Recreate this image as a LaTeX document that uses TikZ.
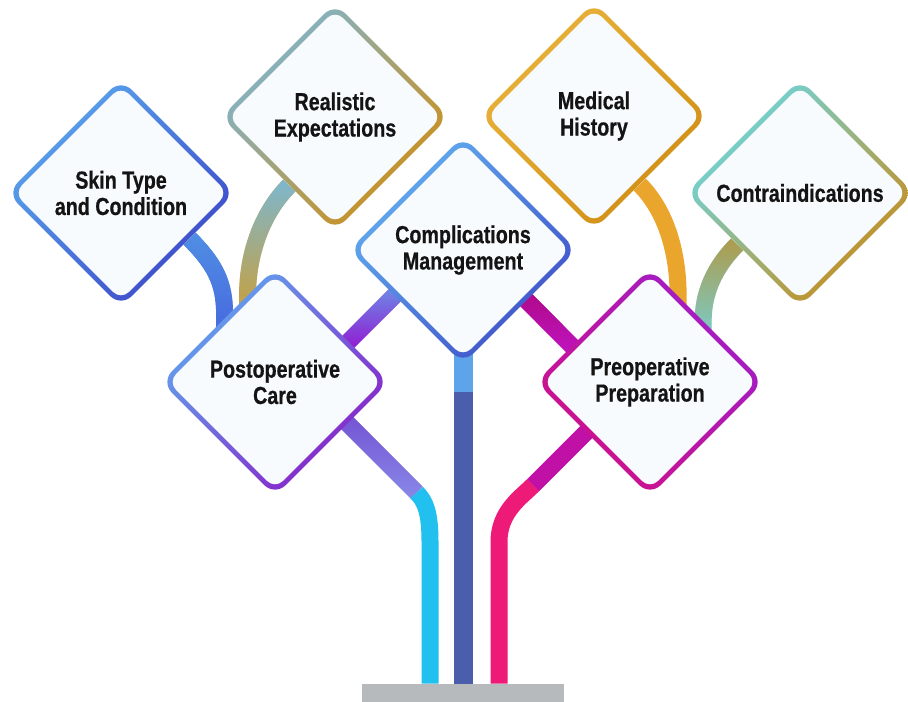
\documentclass[tikz,border=0pt]{standalone}
\usepackage{fontspec}
\usepackage{tikz}
\usetikzlibrary{shapes.geometric}
\usetikzlibrary{calc}
\usetikzlibrary{fadings}
\newfontfamily\cardfont[FakeStretch=0.8, FakeBold=0.6]{Liberation Sans}
\definecolor{facewhite}{HTML}{F8FBFD}
\definecolor{cardtext}{HTML}{141414}
\definecolor{skinlt}{HTML}{5AA8EE}
\definecolor{skindk}{HTML}{3C46C8}
\definecolor{reallt}{HTML}{7CB6D4}
\definecolor{realdk}{HTML}{D08E14}
\definecolor{complt}{HTML}{62B0F0}
\definecolor{compdk}{HTML}{3F4FC8}
\definecolor{medlt}{HTML}{EAB43C}
\definecolor{meddk}{HTML}{D08E14}
\definecolor{contralt}{HTML}{6AD8E4}
\definecolor{contradk}{HTML}{C98C18}
\definecolor{postlt}{HTML}{5FAAEE}
\definecolor{postdk}{HTML}{8A1CC8}
\definecolor{prelt}{HTML}{A01EC8}
\definecolor{predk}{HTML}{D0108A}
\definecolor{skinstemA}{HTML}{5090E4}
\definecolor{skinstemB}{HTML}{4660DE}
\definecolor{realstemA}{HTML}{7CB8D2}
\definecolor{realstemB}{HTML}{D49C26}
\definecolor{medstem}{HTML}{E9A52C}
\definecolor{contrastemA}{HTML}{B09A48}
\definecolor{contrastemB}{HTML}{6ED8E8}
\definecolor{trunk}{HTML}{4B5EAC}
\definecolor{trunktop}{HTML}{5EA4EA}
\definecolor{linkblue}{HTML}{6C8CE6}
\definecolor{linkpurple}{HTML}{9418D2}
\definecolor{linkmag}{HTML}{B00A8A}
\definecolor{linkviolet}{HTML}{C014C0}
\definecolor{lavA}{HTML}{7454D4}
\definecolor{lavB}{HTML}{8A8AE8}
\definecolor{cyanstem}{HTML}{22C0EE}
\definecolor{magstem}{HTML}{C010A6}
\definecolor{pinkstem}{HTML}{EE1A78}
\definecolor{basegray}{HTML}{B7BABD}
\tikzfading[name=fade down, top color=transparent!0, bottom color=transparent!100]
\pgfdeclarelayer{background}
\pgfsetlayers{background,main}
\tikzset{
  rim/.style={diamond, aspect=1, minimum size=4.56cm, inner sep=0pt, rounded corners=0.3cm},
  face/.style={diamond, aspect=1, minimum size=4.28cm, inner sep=0pt, rounded corners=0.22cm,
    fill=facewhite, align=center, text=cardtext, font=\cardfont\bfseries\fontsize{14}{15}\selectfont},
  stem/.style={line width=0.34cm},
  gstem/.style 2 args={stem, draw=#2, postaction={draw=#1, path fading=fade down}},
  basebar/.style={rectangle, fill=basegray, minimum width=4.04cm, minimum height=0.36cm, inner sep=0pt},
}
\newcommand{\drawcard}[6]{
  \node[rim, top color=#3, bottom color=#4, shading angle=#5] (#1) at #2 {};
  \node[face] (#1-t) at (#1) {#6};
}

\begin{document}
\begin{tikzpicture}[x=0.02cm, y=0.02cm]
  \useasboundingbox (0,0) rectangle (908,702);

  \drawcard{skin}{(121,509)}{skinlt}{skindk}{45}{Skin Type\\and Condition}
  \drawcard{real}{(335,585)}{reallt}{realdk}{45}{Realistic\\Expectations}
  \drawcard{med}{(594,586)}{medlt}{meddk}{45}{Medical\\History}
  \drawcard{contra}{(800,509)}{contralt}{contradk}{45}{Contraindications}
  \drawcard{comp}{(463,452)}{complt}{compdk}{45}{Complications\\Management}
  \drawcard{post}{(275,320)}{postlt}{postdk}{45}{Postoperative\\Care}
  \drawcard{pre}{(650,320)}{prelt}{predk}{-45}{Preoperative\\Preparation}

  \node[basebar] (base) at (463,9) {};

  \begin{pgfonlayer}{background}
    \fill[white] (0,0) rectangle (908,702);
    %% upper branches
    \draw[gstem={skinstemA}{skinstemB}] ($(skin.east)!0.4!(skin.south)$)
      .. controls +(30,-30) and +(0,30) .. ($(post.west)!0.56!(post.north)$) -- ++(0,-30);
    \draw[gstem={realstemA}{realstemB}] ($(real.west)!0.6!(real.south)$)
      .. controls +(-28,-28) and +(0,40) .. ($(post.west)!0.76!(post.north)$) -- ++(0,-30);
    \draw[stem, medstem] ($(med.east)!0.6!(med.south)$)
      .. controls +(28,-28) and +(0,40) .. ($(pre.north)!0.246!(pre.east)$) -- ++(0,-30);
    \draw[gstem={contrastemA}{contrastemB}] ($(contra.west)!0.45!(contra.south)$)
      .. controls +(-25,-25) and +(0,25) .. ($(pre.north)!0.465!(pre.east)$) -- ++(0,-30);
    %% cross links
    \draw[gstem={linkblue}{linkpurple}, shorten <=-4pt, shorten >=-4pt]
      ($(comp.west)!0.4!(comp.south)$) -- ($(post.north)!0.645!(post.east)$);
    \draw[gstem={linkmag}{linkviolet}, shorten <=-4pt, shorten >=-4pt]
      ($(comp.south)!0.557!(comp.east)$) -- ($(pre.west)!0.316!(pre.north)$);
    %% trunk
    \draw[stem, line width=0.38cm, trunk] (comp.center) -- (base.north);
    \draw[stem, line width=0.38cm, trunktop] (comp.center) -- ($(comp.south)+(0,-28)$);
    %% lower branches
    \draw[gstem={lavA}{lavB}, shorten <=-4pt] ($(post.east)!0.364!(post.south)$) -- ++(69,-69) coordinate (postbend);
    \draw[stem, cyanstem] (postbend) .. controls +(9,-9) and +(0,28) .. ($(base.north)+(-33,142)$) -- ($(base.north)+(-33,0)$);
    \draw[stem, magstem, shorten <=-4pt] ($(pre.west)!0.44!(pre.south)$) -- ++(-53,-53) coordinate (prebend);
    \draw[stem, pinkstem] (prebend) .. controls +(-12,-12) and +(0,30) .. ($(base.north)+(36,142)$) -- ($(base.north)+(36,0)$);
  \end{pgfonlayer}
\end{tikzpicture}
\end{document}
